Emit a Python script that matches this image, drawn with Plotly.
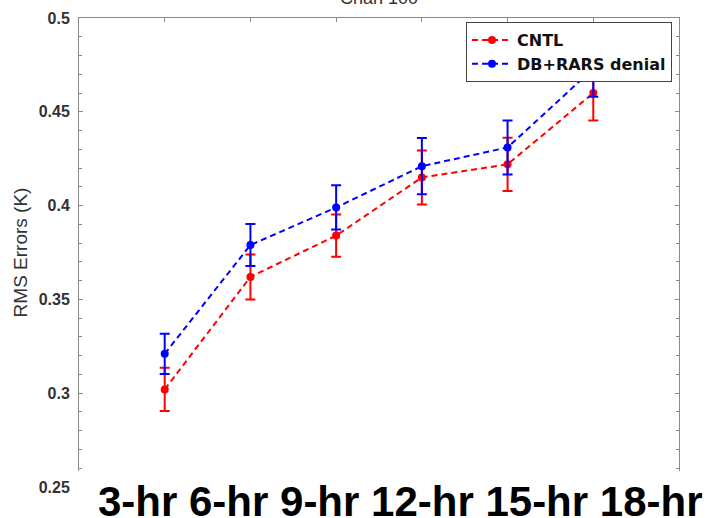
import plotly.graph_objects as go

categories = ["3-hr", "6-hr", "9-hr", "12-hr", "15-hr", "18-hr"]
cntl = [0.302, 0.362, 0.384, 0.415, 0.422, 0.460]
cntl_err = [0.0115, 0.012, 0.0113, 0.0144, 0.0142, 0.0146]
denial = [0.321, 0.379, 0.399, 0.421, 0.431, 0.473]
denial_err = [0.0107, 0.0112, 0.0118, 0.015, 0.0144, 0.015]
y_ticks = [0.25, 0.3, 0.35, 0.4, 0.45, 0.5]
y_tick_labels = ["0.25", "0.3", "0.35", "0.4", "0.45", "0.5"]
title_text = "Chan 100"

x = list(range(1, len(categories) + 1))

W, H = 707, 518
ML, MR, MT, MB = 79, 28, 18, 31
PW, PH = W - ML - MR, H - MT - MB

def px_x(p):
    return (p - ML) / PW

def px_y(p):
    return 1 - (p - MT) / PH

fig = go.Figure()
fig.add_trace(go.Scatter(
    x=x, y=cntl, name="CNTL", mode="lines+markers",
    line=dict(color="#ff0000", width=2, dash="6px,4px"),
    marker=dict(color="#ff0000", size=8, symbol="circle"),
    error_y=dict(type="data", array=cntl_err, visible=True, color="#ff0000", thickness=2, width=5),
))
fig.add_trace(go.Scatter(
    x=x, y=denial, name="DB+RARS denial", mode="lines+markers",
    line=dict(color="#0000ff", width=2, dash="6px,4px"),
    marker=dict(color="#0000ff", size=8, symbol="circle"),
    error_y=dict(type="data", array=denial_err, visible=True, color="#0000ff", thickness=2, width=5),
))

axis_common = dict(showline=True, linecolor="#8a8a8a", linewidth=1, mirror="ticks",
                   ticks="inside", tickcolor="#8a8a8a", ticklen=4, showgrid=False,
                   zeroline=False, automargin=False)

fig.update_xaxes(range=[0, len(categories) + 1], tickmode="linear", tick0=0, dtick=1,
                 showticklabels=False, **axis_common)
fig.update_yaxes(range=[0.25, 0.5], tickmode="array", tickvals=y_ticks, ticktext=y_tick_labels,
                 tickfont=dict(family="Liberation Sans, Arial", size=16, color="#333333", weight="bold"),
                 ticklabelstandoff=5,
                 minor=dict(dtick=0.01, ticks="inside", ticklen=3, tickcolor="#8a8a8a", showgrid=False),
                 title=dict(text="RMS Errors (K)", standoff=6,
                            font=dict(family="Liberation Sans, Arial", size=19, color="#333333")),
                 **axis_common)

fig.update_layout(
    width=W, height=H,
    margin=dict(l=ML, r=MR, t=MT, b=MB, pad=0, autoexpand=False),
    paper_bgcolor="white", plot_bgcolor="white",
    font=dict(family="Liberation Sans, Arial", color="#222222"),
    legend=dict(x=px_x(672), y=px_y(22), xanchor="right", yanchor="top",
                bgcolor="white", bordercolor="#444444", borderwidth=1,
                font=dict(family="DejaVu Sans", size=16, color="#111111", weight="bold"),
                tracegroupgap=0, itemwidth=40),
    showlegend=True,
    shapes=[dict(type="rect", xref="paper", yref="paper", x0=px_x(76), x1=1.2,
                 y0=-0.2, y1=px_y(471), fillcolor="white", line=dict(width=0), layer="above")],
    annotations=[
        dict(text=" ".join(categories), xref="paper", yref="paper", x=px_x(400), y=px_y(527),
             xanchor="center", yanchor="bottom", showarrow=False,
             font=dict(family="Liberation Sans, Arial", size=42, color="black", weight="bold")),
        dict(text=title_text, xref="paper", yref="paper", x=0.5, y=px_y(10),
             xanchor="center", yanchor="bottom", showarrow=False,
             font=dict(family="Liberation Sans, Arial", size=18, color="#333333")),
    ],
)

fig.write_html("out.html", config={"displayModeBar": False},
               post_script="document.body.style.margin='0';document.body.style.overflow='hidden';")
